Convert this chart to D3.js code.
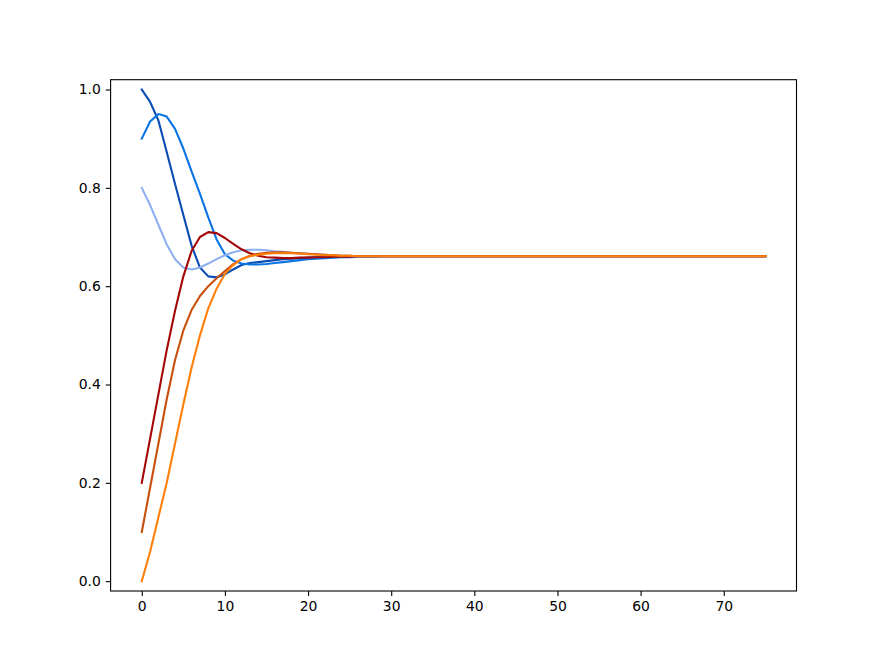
<!DOCTYPE html>
<html>
<head>
<meta charset="utf-8">
<script src="https://cdn.jsdelivr.net/npm/d3@7"></script>
<style>
  html, body { margin: 0; padding: 0; background: #fff; }
  svg { display: block; }
  text { font-family: "DejaVu Sans", sans-serif; }
</style>
</head>
<body>
<svg id="chart" width="885" height="664"></svg>
<script>
const xValues = [
  0,1,2,3,4,5,6,7,8,9,10,11,12,13,14,15,16,17,18,19,20,21,22,23,24,25,
  26,27,28,29,30,31,32,33,34,35,36,37,38,39,40,41,42,43,44,45,46,47,48,49,
  50,51,52,53,54,55,56,57,58,59,60,61,62,63,64,65,66,67,68,69,70,71,72,73,74,75
];
const seriesDarkBlue = [
  1.0,0.975,0.937,0.873,0.808,0.745,0.682,0.638,0.62,0.618,0.624,0.634,0.643,0.647,0.649,0.651,0.653,0.655,0.656,0.657,0.658,0.659,0.659,0.66,0.66,0.66,
  0.661,0.661,0.661,0.661,0.661,0.661,0.661,0.661,0.661,0.661,0.661,0.661,0.661,0.661,
  0.661,0.661,0.661,0.661,0.661,0.661,0.661,0.661,0.661,0.661,0.661,0.661,0.661,0.661,
  0.661,0.661,0.661,0.661,0.661,0.661,0.661,0.661,0.661,0.661,0.661,0.661,0.661,0.661,
  0.661,0.661,0.661,0.661,0.661,0.661,0.661,0.661
];
const seriesBlue = [
  0.9,0.935,0.95,0.945,0.92,0.88,0.833,0.788,0.74,0.695,0.665,0.652,0.646,0.644,0.644,0.645,0.647,0.649,0.651,0.653,0.655,0.656,0.657,0.658,0.659,0.659,
  0.66,0.66,0.66,0.661,0.661,0.661,0.661,0.661,0.661,0.661,0.661,0.661,0.661,0.661,
  0.661,0.661,0.661,0.661,0.661,0.661,0.661,0.661,0.661,0.661,0.661,0.661,0.661,0.661,
  0.661,0.661,0.661,0.661,0.661,0.661,0.661,0.661,0.661,0.661,0.661,0.661,0.661,0.661,
  0.661,0.661,0.661,0.661,0.661,0.661,0.661,0.661
];
const seriesLightBlue = [
  0.8,0.765,0.725,0.685,0.655,0.638,0.634,0.638,0.646,0.655,0.663,0.669,0.673,0.674,0.674,0.673,0.671,0.67,0.668,0.667,0.666,0.665,0.664,0.663,0.662,0.662,
  0.661,0.661,0.661,0.661,0.661,0.661,0.661,0.661,0.661,0.661,0.661,0.661,0.661,0.661,
  0.661,0.661,0.661,0.661,0.661,0.661,0.661,0.661,0.661,0.661,0.661,0.661,0.661,0.661,
  0.661,0.661,0.661,0.661,0.661,0.661,0.661,0.661,0.661,0.661,0.661,0.661,0.661,0.661,
  0.661,0.661,0.661,0.661,0.661,0.661,0.661,0.661
];
const seriesDarkRed = [
  0.2,0.29,0.38,0.47,0.55,0.62,0.672,0.70,0.71,0.708,0.698,0.686,0.675,0.667,0.662,0.659,0.658,0.657,0.657,0.658,0.658,0.659,0.659,0.66,0.66,0.66,
  0.661,0.661,0.661,0.661,0.661,0.661,0.661,0.661,0.661,0.661,0.661,0.661,0.661,0.661,
  0.661,0.661,0.661,0.661,0.661,0.661,0.661,0.661,0.661,0.661,0.661,0.661,0.661,0.661,
  0.661,0.661,0.661,0.661,0.661,0.661,0.661,0.661,0.661,0.661,0.661,0.661,0.661,0.661,
  0.661,0.661,0.661,0.661,0.661,0.661,0.661,0.661
];
const seriesBrown = [
  0.1,0.19,0.28,0.37,0.45,0.51,0.552,0.58,0.6,0.616,0.631,0.645,0.655,0.662,0.666,0.668,0.669,0.669,0.668,0.667,0.666,0.665,0.664,0.663,0.662,0.662,
  0.661,0.661,0.661,0.661,0.661,0.661,0.661,0.661,0.661,0.661,0.661,0.661,0.661,0.661,
  0.661,0.661,0.661,0.661,0.661,0.661,0.661,0.661,0.661,0.661,0.661,0.661,0.661,0.661,
  0.661,0.661,0.661,0.661,0.661,0.661,0.661,0.661,0.661,0.661,0.661,0.661,0.661,0.661,
  0.661,0.661,0.661,0.661,0.661,0.661,0.661,0.661
];
const seriesOrange = [
  0.0,0.06,0.13,0.2,0.28,0.36,0.435,0.5,0.555,0.595,0.625,0.643,0.655,0.661,0.664,0.666,0.667,0.667,0.667,0.666,0.665,0.664,0.663,0.663,0.662,0.662,
  0.661,0.661,0.661,0.661,0.661,0.661,0.661,0.661,0.661,0.661,0.661,0.661,0.661,0.661,
  0.661,0.661,0.661,0.661,0.661,0.661,0.661,0.661,0.661,0.661,0.661,0.661,0.661,0.661,
  0.661,0.661,0.661,0.661,0.661,0.661,0.661,0.661,0.661,0.661,0.661,0.661,0.661,0.661,
  0.661,0.661,0.661,0.661,0.661,0.661,0.661,0.661
];
const seriesList = [seriesDarkBlue, seriesBlue, seriesLightBlue, seriesDarkRed, seriesBrown, seriesOrange];
const seriesColors = ["#0a4cb4", "#0a75e2", "#8eb0f2", "#a50505", "#c8500c", "#ff7f0a"];
const xTicks = [0,10,20,30,40,50,60,70];
const yTicks = [0.0,0.2,0.4,0.6,0.8,1.0];

(function () {
const svg = d3.select("#chart");
const padLeft = 110.6, padRight = 796.5, padTop = 79.7, padBottom = 591;

const x = d3.scaleLinear().domain([-3.75, 78.75]).range([padLeft, padRight]);
const y = d3.scaleLinear().domain([-0.02, 1.02]).range([padBottom, padTop]);

svg.append("rect").attr("width", 885).attr("height", 664).attr("fill", "#fff");

const line = d3.line().x((d, i) => x(xValues[i])).y(d => y(d));
seriesList.forEach((s, k) => {
  svg.append("path")
    .datum(s)
    .attr("d", line)
    .attr("fill", "none")
    .attr("stroke", seriesColors[k])
    .attr("stroke-width", 2.1)
    .attr("stroke-linejoin", "round")
    .attr("stroke-linecap", "square");
});

const xAxis = svg.append("g")
  .attr("transform", `translate(0,${padBottom})`)
  .call(d3.axisBottom(x).tickValues(xTicks).tickFormat(d3.format("d")).tickSize(4.9).tickPadding(4.9));
const yAxis = svg.append("g")
  .attr("transform", `translate(${padLeft},0)`)
  .call(d3.axisLeft(y).tickValues(yTicks).tickFormat(d3.format(".1f")).tickSize(4.9).tickPadding(4.9));

[xAxis, yAxis].forEach(g => {
  g.select(".domain").remove();
  g.selectAll(".tick line").attr("stroke", "#000").attr("stroke-width", 1.1);
  g.selectAll(".tick text").attr("fill", "#000").style("font-size", "13.9px").style("font-family", "'DejaVu Sans', sans-serif");
});

svg.append("rect")
  .attr("x", padLeft).attr("y", padTop)
  .attr("width", padRight - padLeft).attr("height", padBottom - padTop)
  .attr("fill", "none").attr("stroke", "#000").attr("stroke-width", 1.1);
})();
</script>
</body>
</html>
